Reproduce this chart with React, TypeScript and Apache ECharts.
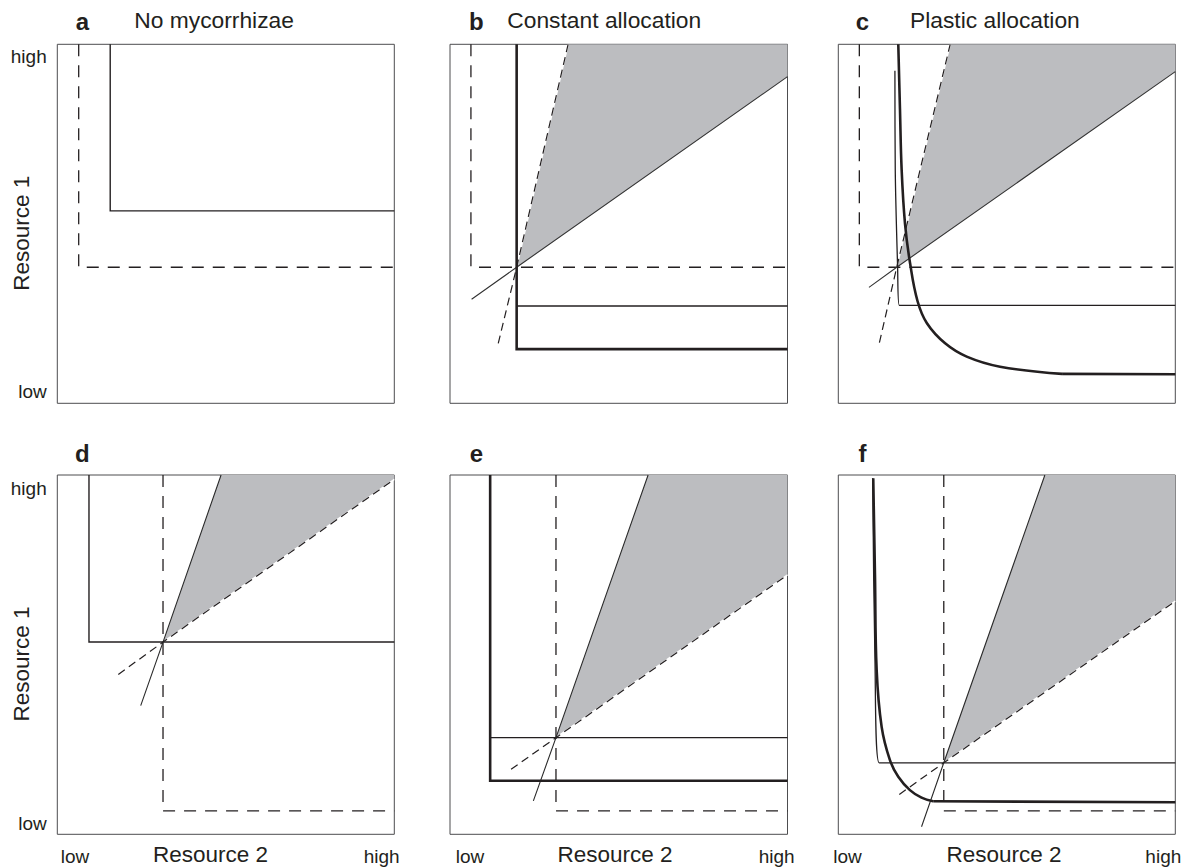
import React, { useEffect, useRef } from "react";
import * as echarts from "echarts";

type Pt = [number, number];

// ---------- data (unit coordinates: x = Resource 2, y = Resource 1, 0 = low, 1 = high) ----------
const panelLetters = ["a", "b", "c", "d", "e", "f"];
const panelTitles = ["No mycorrhizae", "Constant allocation", "Plastic allocation", "", "", ""];
const axisLow = "low";
const axisHigh = "high";
const yAxisName = "Resource 1";
const xAxisName = "Resource 2";

// panel a
const aDashed: Pt[] = [[0.0635, 1], [0.0635, 0.379], [1, 0.379]];
const aSolid: Pt[] = [[0.157, 1], [0.157, 0.536], [1, 0.536]];

// panel b
const bDashed: Pt[] = [[0.062, 1], [0.062, 0.379], [1, 0.379]];
const bThick: Pt[] = [[0.1975, 1], [0.1975, 0.151], [1, 0.151]];
const bThin: Pt[] = [[0.1975, 0.271], [1, 0.271]];
const bVecDashed: Pt[] = [[0.143, 0.167], [0.1975, 0.379], [0.35, 1]];
const bVecSolid: Pt[] = [[0.064, 0.29], [0.1975, 0.379], [1, 0.91]];
const bWedge: Pt[] = [[0.1975, 0.379], [0.35, 1], [1, 1], [1, 0.91]];

// panel c
const cDashed: Pt[] = [[0.0624, 1], [0.0624, 0.379], [1, 0.379]];
const cThin: Pt[] = [[0.168, 0.926], [0.169, 0.65], [0.176, 0.38], [0.181, 0.273], [1, 0.273]];
const cThick: Pt[] = [
  [0.178, 1], [0.183, 0.82], [0.188, 0.65], [0.198, 0.5], [0.213, 0.39], [0.235, 0.285],
  [0.263, 0.223], [0.317, 0.167], [0.381, 0.13], [0.48, 0.102], [0.664, 0.082],
];
const cThickFlat: Pt[] = [[0.664, 0.082], [1, 0.081]];
const cVecDashed: Pt[] = [[0.122, 0.169], [0.1734, 0.379], [0.332, 1]];
const cVecSolid: Pt[] = [[0.091, 0.323], [0.1734, 0.379], [1, 0.924]];
const cWedge: Pt[] = [[0.1734, 0.379], [0.332, 1], [1, 1], [1, 0.924]];

// panel d
const dSolid: Pt[] = [[0.094, 1], [0.094, 0.535], [1, 0.535]];
const dDashed: Pt[] = [[0.3137, 1], [0.3137, 0.065], [1, 0.065]];
const dVecSolid: Pt[] = [[0.2475, 0.358], [0.3137, 0.535], [0.486, 1]];
const dVecDashed: Pt[] = [[0.181, 0.445], [0.3137, 0.535], [1, 0.988]];
const dWedge: Pt[] = [[0.3137, 0.535], [0.486, 1], [1, 1], [1, 0.988]];

// panel e
const eThick: Pt[] = [[0.119, 1], [0.119, 0.149], [1, 0.149]];
const eThin: Pt[] = [[0.119, 0.269], [1, 0.269]];
const eDashed: Pt[] = [[0.314, 1], [0.314, 0.065], [1, 0.065]];
const eVecSolid: Pt[] = [[0.247, 0.093], [0.314, 0.269], [0.587, 1]];
const eVecDashed: Pt[] = [[0.181, 0.181], [0.314, 0.269], [1, 0.722]];
const eWedge: Pt[] = [[0.314, 0.269], [0.587, 1], [1, 1], [1, 0.722]];

// panel f
const fDashed: Pt[] = [[0.313, 1], [0.313, 0.065], [1, 0.065]];
const fThin: Pt[] = [[0.102, 0.991], [0.1088, 0.485], [0.1215, 0.199], [1, 0.199]];
const fThick: Pt[] = [
  [0.1037, 0.991], [0.1088, 0.723], [0.1138, 0.457], [0.1286, 0.299], [0.153, 0.207],
  [0.178, 0.16], [0.2125, 0.123], [0.247, 0.102], [0.2816, 0.092],
];
const fThickFlat: Pt[] = [[0.2816, 0.092], [1, 0.089]];
const fVecSolid: Pt[] = [[0.247, 0.021], [0.313, 0.199], [0.613, 1]];
const fVecDashed: Pt[] = [[0.181, 0.111], [0.313, 0.199], [1, 0.649]];
const fWedge: Pt[] = [[0.313, 0.199], [0.613, 1], [1, 1], [1, 0.649]];

// ---------- layout & style ----------
const INK = "#231f20";
const GRAY = "#bcbdc0";
const FONT = '"Liberation Sans", Arial, Helvetica, sans-serif';
const colLeft = [57.3, 450, 838.3];
const colWidth = [337, 337.5, 337];
const rowTop = [44.3, 475];
const rowHeight = [359, 359.3];

function gridOf(i: number) {
  const r = Math.floor(i / 3);
  const c = i % 3;
  return {
    left: colLeft[c],
    top: rowTop[r],
    width: colWidth[c],
    height: rowHeight[r],
    show: true,
    borderColor: "#4d4d4f",
    borderWidth: 1,
    backgroundColor: "transparent",
  };
}

function line(g: number, data: Pt[], width: number, opts: any = {}) {
  return {
    type: "line",
    xAxisIndex: g,
    yAxisIndex: g,
    data,
    showSymbol: false,
    symbol: "none",
    silent: true,
    clip: true,
    smooth: opts.smooth ?? false,
    z: opts.z ?? 3,
    lineStyle: {
      color: opts.color ?? INK,
      width,
      type: opts.dash ?? "solid",
      cap: "butt",
      join: "miter",
    },
  };
}

function wedge(g: number, pts: Pt[]) {
  return {
    type: "custom",
    xAxisIndex: g,
    yAxisIndex: g,
    silent: true,
    clip: true,
    z: 1,
    data: [pts[0]],
    renderItem: (_p: any, api: any) => ({
      type: "polygon",
      shape: { points: pts.map((p) => api.coord(p)) },
      style: { fill: GRAY, stroke: "none" },
    }),
  };
}

const DASH = [12, 9];
const DASH_FINE = [8, 5];

function dashedOverWhite(g: number, data: Pt[]) {
  return [
    line(g, data, 1.4, { color: "#ffffff", z: 2 }),
    line(g, data, 1.2, { dash: DASH_FINE, z: 3 }),
  ];
}

function buildSeries() {
  const s: any[] = [];
  // a
  s.push(line(0, aDashed, 1.3, { dash: DASH }));
  s.push(line(0, aSolid, 1.4));
  // b
  s.push(wedge(1, bWedge));
  s.push(line(1, bDashed, 1.3, { dash: DASH }));
  s.push(...dashedOverWhite(1, bVecDashed));
  s.push(line(1, bVecSolid, 1.1, { color: "#333333" }));
  s.push(line(1, bThin, 1.3));
  s.push(line(1, bThick, 2.6));
  // c
  s.push(wedge(2, cWedge));
  s.push(line(2, cDashed, 1.3, { dash: DASH }));
  s.push(...dashedOverWhite(2, cVecDashed));
  s.push(line(2, cVecSolid, 1.1, { color: "#333333" }));
  s.push(line(2, cThin, 1.3, { smooth: 0.3 }));
  s.push(line(2, cThick, 2.6, { smooth: 0.4 }));
  s.push(line(2, cThickFlat, 2.6));
  // d
  s.push(wedge(3, dWedge));
  s.push(line(3, dDashed, 1.3, { dash: DASH }));
  s.push(...dashedOverWhite(3, dVecDashed));
  s.push(line(3, dVecSolid, 1.1, { color: "#2a2a2a" }));
  s.push(line(3, dSolid, 1.4));
  // e
  s.push(wedge(4, eWedge));
  s.push(line(4, eDashed, 1.3, { dash: DASH }));
  s.push(...dashedOverWhite(4, eVecDashed));
  s.push(line(4, eVecSolid, 1.1, { color: "#2a2a2a" }));
  s.push(line(4, eThin, 1.3));
  s.push(line(4, eThick, 2.6));
  // f
  s.push(wedge(5, fWedge));
  s.push(line(5, fDashed, 1.3, { dash: DASH }));
  s.push(...dashedOverWhite(5, fVecDashed));
  s.push(line(5, fVecSolid, 1.1, { color: "#2a2a2a" }));
  s.push(line(5, fThin, 1.3, { smooth: 0.3 }));
  s.push(line(5, fThick, 2.6, { smooth: 0.4 }));
  s.push(line(5, fThickFlat, 2.6));
  return s;
}

function txt(text: string, x: number, y: number, size: number, opts: any = {}) {
  return {
    type: "text",
    x,
    y,
    rotation: opts.rotation ?? 0,
    silent: true,
    style: {
      text,
      fill: INK,
      fontSize: size,
      fontFamily: FONT,
      fontWeight: opts.bold ? "bold" : "normal",
      align: opts.align ?? "center",
      verticalAlign: "middle",
    },
  };
}

function buildGraphics() {
  const g: any[] = [];
  const letterX = [82.3, 476.3, 862.5];
  const titleX = [134.3, 507.3, 910];
  const letterY = [21.6, 453.3];
  for (let i = 0; i < 6; i++) {
    const r = Math.floor(i / 3);
    const c = i % 3;
    g.push(txt(panelLetters[i], letterX[c], letterY[r], 24, { bold: true }));
    if (panelTitles[i]) g.push(txt(panelTitles[i], titleX[c], 19.8, 22.8, { align: "left" }));
  }
  // y axis labels (left column)
  const hiY = [56.7, 488.4];
  const loY = [391.7, 823.4];
  const nameY = [233.3, 664];
  for (let r = 0; r < 2; r++) {
    g.push(txt(axisHigh, 46.7, hiY[r], 19, { align: "right" }));
    g.push(txt(axisLow, 46.7, loY[r], 19, { align: "right" }));
    g.push(txt(yAxisName, 21.3, nameY[r], 22.5, { rotation: Math.PI / 2 }));
  }
  // x axis labels (bottom row)
  const lowX = [75, 470, 847.5];
  const highX = [381.7, 776.7, 1163.3];
  const nameX = [210.5, 615, 1004];
  for (let c = 0; c < 3; c++) {
    g.push(txt(axisLow, lowX[c], 856, 19));
    g.push(txt(axisHigh, highX[c], 856, 19));
    g.push(txt(xAxisName, nameX[c], 854, 22.5));
  }
  return g;
}

export default function App() {
  const ref = useRef<HTMLDivElement>(null);
  useEffect(() => {
    if (!ref.current) return;
    const chart = echarts.init(ref.current, undefined, { renderer: "svg" });
    const idx = [0, 1, 2, 3, 4, 5];
    chart.setOption({
      animation: false,
      backgroundColor: "#ffffff",
      grid: idx.map(gridOf),
      xAxis: idx.map((i) => ({
        type: "value",
        gridIndex: i,
        min: 0,
        max: 1,
        show: false,
        splitLine: { show: false },
      })),
      yAxis: idx.map((i) => ({
        type: "value",
        gridIndex: i,
        min: 0,
        max: 1,
        show: false,
        splitLine: { show: false },
      })),
      series: buildSeries(),
      graphic: buildGraphics(),
    });
    return () => chart.dispose();
  }, []);
  return (
    <div
      ref={ref}
      style={{ position: "fixed", left: 0, top: 0, width: 1188, height: 867, background: "#fff" }}
    />
  );
}
